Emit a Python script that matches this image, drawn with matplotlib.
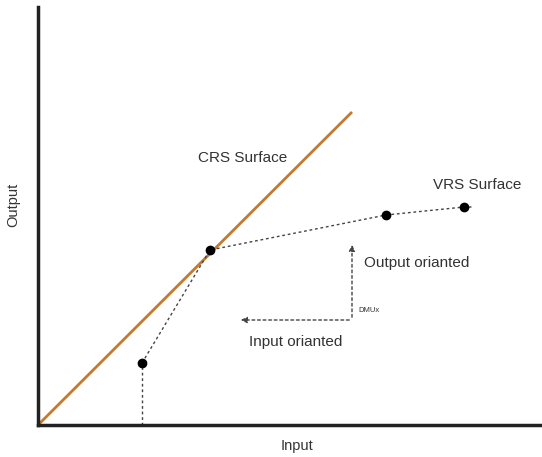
import matplotlib.pyplot as plt

# data in pixel-like units (origin at axis corner)
crs_x = [0, 314]
crs_y = [0, 313]

dmu_x = [104, 172, 348, 426]
dmu_y = [62, 175, 210, 218]
vrs_x = [104, 172, 348, 426, 434]
vrs_y = [62, 175, 210, 218, 218]

dmux = (314, 105)
out_arrow_to = (314, 183)
in_arrow_to = (200, 105)

fig = plt.figure(figsize=(5.42, 4.57), dpi=100)
ax = fig.add_axes([38 / 542, 32 / 457, 504 / 542, 418 / 457])
ax.set_xlim(0, 504)
ax.set_ylim(0, 418)

# CRS surface
ax.plot(crs_x, crs_y, color='#c47a2c', lw=2, solid_capstyle='butt')

# VRS surface (dotted)
ax.plot(vrs_x, vrs_y, color='#444444', lw=1, ls=(0, (2, 2)))
ax.plot([dmu_x[0], dmu_x[0]], [0, dmu_y[0]], color='#444444', lw=1, ls=(0, (2, 2)))
ax.plot(dmu_x, dmu_y, 'o', color='black', ms=6, zorder=5)

# orientation arrows
ax.annotate('', xy=out_arrow_to, xytext=dmux,
            arrowprops=dict(arrowstyle='-|>', ls=(0, (2, 2)), color='#444444', lw=1, mutation_scale=9))
ax.annotate('', xy=in_arrow_to, xytext=dmux,
            arrowprops=dict(arrowstyle='-|>', ls=(0, (2, 2)), color='#444444', lw=1, mutation_scale=9))

fam = ['Liberation Sans', 'DejaVu Sans']
ax.text(205, 267, 'CRS Surface', fontsize=11, family=fam, ha='center', va='center', color='#333333')
ax.text(439, 240, 'VRS Surface', fontsize=11, family=fam, ha='center', va='center', color='#333333')
ax.text(379, 162, 'Output orianted', fontsize=11, family=fam, ha='center', va='center', color='#333333')
ax.text(320, 114, 'DMUx', fontsize=5.5, family=fam, ha='left', va='center', color='#333333')
ax.text(258, 83, 'Input orianted', fontsize=11, family=fam, ha='center', va='center', color='#333333')

ax.set_xlabel('Input', fontsize=10.5, family=fam, color='#333333')
ax.set_ylabel('Output', fontsize=10.5, family=fam, color='#333333')
ax.xaxis.set_label_coords(259 / 504, -14 / 418)
ax.yaxis.set_label_coords(-18 / 504, 220 / 418)

ax.set_xticks([])
ax.set_yticks([])
for s in ['top', 'right']:
    ax.spines[s].set_visible(False)
for s in ['left', 'bottom']:
    ax.spines[s].set_linewidth(2.5)
    ax.spines[s].set_color('#222222')

fig.savefig('out.png', dpi=100)
